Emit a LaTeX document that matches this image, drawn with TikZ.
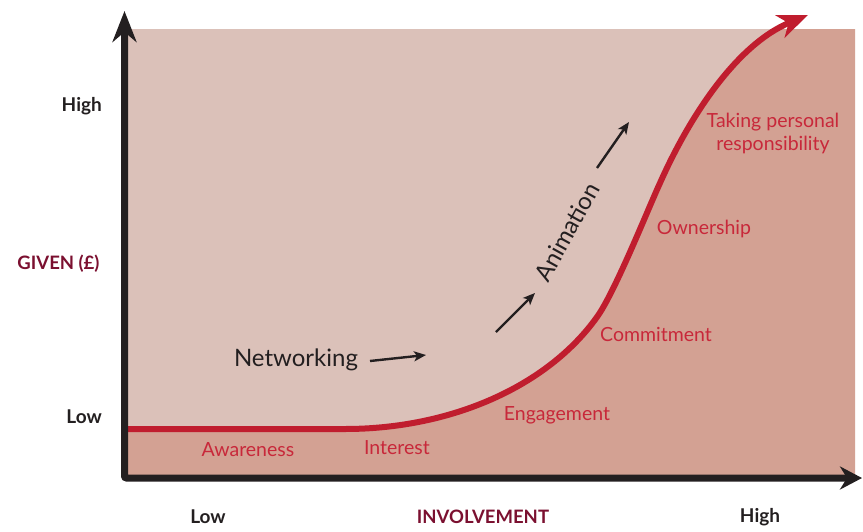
\documentclass[tikz,border=0pt]{standalone}
\usepackage{fontspec}
\setmainfont{Lato}
\usetikzlibrary{arrows.meta}
\definecolor{lightbg}{HTML}{DBC1B9}
\definecolor{darkbg}{HTML}{D3A193}
\definecolor{curvered}{HTML}{C01D2E}
\definecolor{labelred}{HTML}{C8283A}
\definecolor{maroon}{HTML}{7B1030}
\definecolor{axisblack}{HTML}{231F20}
\tikzset{
  axisline/.style={draw=axisblack, line width=7pt, rounded corners=2pt,
    {Stealth[length=31pt,width=24pt,inset=10pt]}-{Stealth[length=22pt,width=23pt,inset=7pt]}},
  curveline/.style={draw=curvered, line width=6pt,
    -{Stealth[length=30pt,width=24pt,inset=9pt]}},
  smallarrow/.style={draw=axisblack, line width=2.4pt,
    -{Stealth[length=12pt,width=10pt,inset=3pt]}},
  ticklabel/.style={text=axisblack, font=\bfseries\fontsize{19}{22}\selectfont, inner sep=0pt, anchor=east},
  axistitle/.style={text=maroon, font=\bfseries\fontsize{18.5}{22}\selectfont, inner sep=0pt},
  xticklabel/.style={text=axisblack, font=\bfseries\fontsize{19}{22}\selectfont, inner sep=0pt},
  stagelabel/.style={text=labelred, font=\fontsize{19.5}{23}\selectfont, inner sep=0pt, align=center},
  bigtext/.style={text=axisblack, font=\fontsize{24}{28}\selectfont, inner sep=0pt}
}
\begin{document}
\begin{tikzpicture}[x=1pt,y=-1pt]
\useasboundingbox (0,0) rectangle (863,531);
% background
\fill[lightbg] (126,29) rectangle (855,476);
\begin{scope}
\clip (126,29) rectangle (855,476);
\fill[darkbg] (120,480) -- (120,429) -- (345,429)
  .. controls (450,429) and (547,387) .. (597,317)
  .. controls (615,292) and (648,209) .. (660,183)
  .. controls (688,120) and (735,45) .. (808,15)
  -- (900,0) -- (900,480) -- cycle;
\end{scope}
% curve
\draw[curveline] (126,429) -- (345,429)
  .. controls (450,429) and (547,387) .. (597,317)
  .. controls (615,292) and (648,209) .. (660,183)
  .. controls (688,120) and (735,45) .. (808,15);
% axes
\coordinate (ytip) at (124.5,11);
\coordinate (origin) at (124.5,478);
\coordinate (xtip) at (862,478);
\draw[axisline] (ytip) -- (origin) -- (xtip);
% axis labels
\node[ticklabel] (yhigh) at (102,106) {High};
\node[axistitle] (ytitle) at (58.5,264) {GIVEN (£)};
\node[ticklabel] (ylow) at (102,417) {Low};
\node[xticklabel] (xlow) at (208,517) {Low};
\node[axistitle] (xtitle) at (483,517) {INVOLVEMENT};
\node[xticklabel] (xhigh) at (760,517) {High};
% stage labels
\node[stagelabel] (aware) at (248,450) {Awareness};
\node[stagelabel] (interest) at (397,448) {Interest};
\node[stagelabel] (engage) at (557,415) {Engagement};
\node[stagelabel] (commit) at (656,334) {Commitment};
\node[stagelabel] (own) at (704,229) {Ownership};
\node[stagelabel] (taking) at (773,133) {Taking personal\\responsibility};
% networking / animation
\node[bigtext] (net) at (296,360) {Networking};
\coordinate (n1) at (370,361);
\coordinate (n2) at (426,355);
\draw[smallarrow] (n1) -- (n2);
\coordinate (a1) at (496,332);
\coordinate (a2) at (535,293);
\draw[smallarrow] (a1) -- (a2);
\node[bigtext, rotate=61] (anim) at (567,232) {Animation};
\coordinate (b1) at (597,168);
\coordinate (b2) at (629,122);
\draw[smallarrow] (b1) -- (b2);
\end{tikzpicture}
\end{document}
